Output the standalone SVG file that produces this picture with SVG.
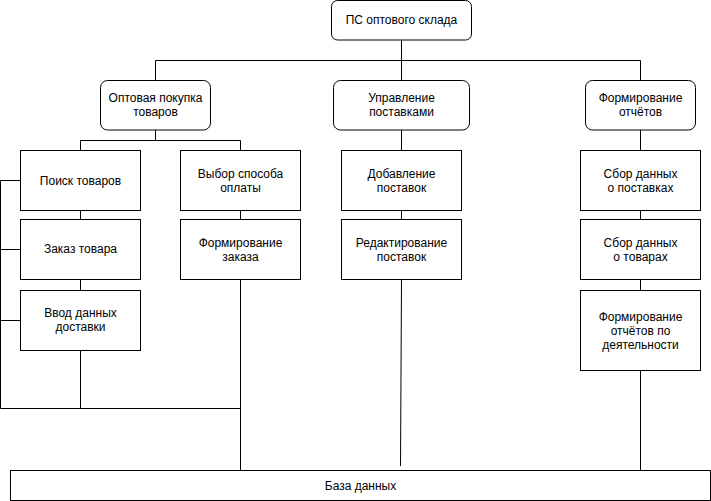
<svg xmlns="http://www.w3.org/2000/svg" width="711" height="501" viewBox="0 0 711 501">
<style>
.box{fill:#ffffff;stroke:#000000;stroke-width:1}
.ln{fill:none;stroke:#000000;stroke-width:1}
text{font-family:"Liberation Sans",Arial,sans-serif;font-size:12px;fill:#000000;text-anchor:middle}
</style>
<rect width="711" height="501" fill="#ffffff"/>
<g id="connectors">
<path class="ln" d="M401.5 40V80"/>
<path class="ln" d="M155.5 80V60.5H640.5V80"/>
<path class="ln" d="M155.5 130V140.5H80.5V150M155.5 140.5H240.5V150"/>
<path class="ln" d="M80.5 210V220M80.5 279V290"/>
<path class="ln" d="M240.5 210V220"/>
<path class="ln" d="M401.5 130V150M401.5 210V220"/>
<path class="ln" d="M640.5 130V150M640.5 210V220M640.5 279V290"/>
<path class="ln" d="M20 180.5H0.5V408.5H240.5M0.5 249.5H20M0.5 320.5H20"/>
<path class="ln" d="M80.5 350V408.5"/>
<path class="ln" d="M240.5 279V470"/>
<path class="ln" d="M401.5 279L400.5 466" stroke="#333333"/>
<path class="ln" d="M640.5 370V471"/>
</g>
<g id="n-root">
<rect class="box" x="331.5" y="0.5" width="140" height="39.5" rx="6"/>
<text x="401.5" y="24">ПС оптового склада</text>
</g>
<g id="n-opt">
<rect class="box" x="100.5" y="80.5" width="110" height="49.5" rx="7"/>
<text x="155.5" y="102">Оптовая покупка</text>
<text x="155.5" y="116">товаров</text>
</g>
<g id="n-upr">
<rect class="box" x="333.5" y="80.5" width="136" height="49.5" rx="7"/>
<text x="401.5" y="102">Управление</text>
<text x="401.5" y="116">поставками</text>
</g>
<g id="n-form">
<rect class="box" x="585.5" y="80.5" width="110" height="49.5" rx="7"/>
<text x="640.5" y="102">Формирование</text>
<text x="640.5" y="116">отчётов</text>
</g>
<g id="n-poisk">
<rect class="box" x="20.5" y="150.5" width="120" height="60"/>
<text x="80.5" y="185">Поиск товаров</text>
</g>
<g id="n-zakaz">
<rect class="box" x="20.5" y="219.5" width="120" height="60"/>
<text x="80.5" y="253">Заказ товара</text>
</g>
<g id="n-vvod">
<rect class="box" x="20.5" y="290.5" width="120" height="60"/>
<text x="80.5" y="317">Ввод данных</text>
<text x="80.5" y="331">доставки</text>
</g>
<g id="n-vybor">
<rect class="box" x="180.5" y="150.5" width="120" height="60"/>
<text x="240.5" y="178">Выбор способа</text>
<text x="240.5" y="192">оплаты</text>
</g>
<g id="n-formzak">
<rect class="box" x="180.5" y="219.5" width="120" height="60"/>
<text x="240.5" y="247">Формирование</text>
<text x="240.5" y="261">заказа</text>
</g>
<g id="n-dob">
<rect class="box" x="341.5" y="150.5" width="120" height="60"/>
<text x="401.5" y="178">Добавление</text>
<text x="401.5" y="192">поставок</text>
</g>
<g id="n-red">
<rect class="box" x="341.5" y="219.5" width="120" height="60"/>
<text x="401.5" y="247">Редактирование</text>
<text x="401.5" y="261">поставок</text>
</g>
<g id="n-sbor1">
<rect class="box" x="580.5" y="150.5" width="120" height="60"/>
<text x="640.5" y="178">Сбор данных</text>
<text x="640.5" y="192">о поставках</text>
</g>
<g id="n-sbor2">
<rect class="box" x="580.5" y="219.5" width="120" height="60"/>
<text x="640.5" y="247">Сбор данных</text>
<text x="640.5" y="261">о товарах</text>
</g>
<g id="n-formdeyat">
<rect class="box" x="580.5" y="290.5" width="120" height="80"/>
<text x="640.5" y="321">Формирование</text>
<text x="640.5" y="335">отчётов по</text>
<text x="640.5" y="349">деятельности</text>
</g>
<g id="n-db">
<rect class="box" x="10.5" y="470.5" width="700" height="30"/>
<text x="360.5" y="490">База данных</text>
</g>
</svg>
